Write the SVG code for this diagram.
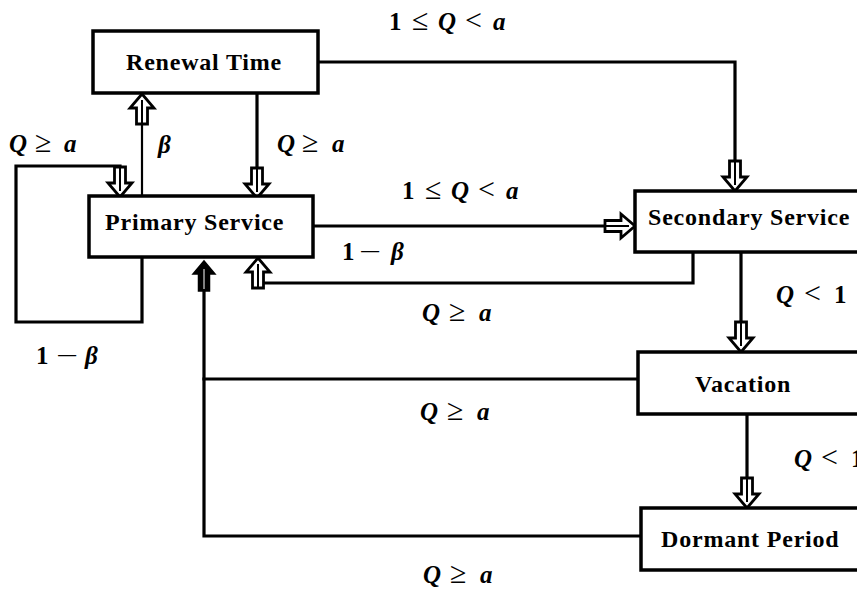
<svg xmlns="http://www.w3.org/2000/svg" xmlns:xlink="http://www.w3.org/1999/xlink" width="857" height="590" viewBox="0 0 857 590">
<style>
.box{fill:#fff;stroke:#000;stroke-width:3.5}
.lbl{font-family:"Liberation Serif","Times New Roman",serif;font-weight:bold;font-size:24px;letter-spacing:0.8px;fill:#000}
.m{font-family:"Liberation Serif","Times New Roman",serif;font-size:25px;fill:#000}
.r{font-size:30px}
.b{font-weight:bold}
.bi{font-weight:bold;font-style:italic}
.c{fill:none;stroke:#000;stroke-width:3.2;stroke-linecap:square;stroke-linejoin:miter}
.thin{stroke-width:2.2}
.ah{fill:#fff;stroke:#000;stroke-width:2.8;stroke-linejoin:miter}
</style>
<defs>
<g id="ah">
<path class="ah" d="M-5.5,-30 L5.5,-30 L5.5,-14 L12,-14 L0,0 L-12,-14 L-5.5,-14 Z"/>
<line x1="0" y1="-31" x2="0" y2="-6" stroke="#000" stroke-width="2"/>
</g>
<g id="fah">
<path d="M-5.5,-30 L5.5,-30 L5.5,-13 L11,-13 L0,0 L-11,-13 L-5.5,-13 Z" fill="#000" stroke="#000" stroke-width="1.5"/>
<line x1="0" y1="-28" x2="0" y2="-8" stroke="#fff" stroke-width="1"/>
</g>
</defs>
<rect width="857" height="590" fill="#fff"/>

<g id="connectors">
<path class="c" d="M318,62 H735 V165"/>
<path class="c" d="M257,93 V172"/>
<path class="c thin" d="M142,196 V122"/>
<path class="c" d="M142,257 V322 H16 V166 H120 V170"/>
<path class="c" d="M313,226 H610"/>
<path class="c" d="M693,252 V283 H258 V275"/>
<path class="c" d="M741,252 V325"/>
<path class="c" d="M747,414 V482"/>
<path class="c" d="M638,379 H204"/>
<path class="c" d="M641,536 H204 V288"/>
<use xlink:href="#ah" transform="translate(735,191)"/>
<use xlink:href="#ah" transform="translate(257,198)"/>
<use xlink:href="#ah" transform="translate(142,94) rotate(180)"/>
<use xlink:href="#ah" transform="translate(120,197)"/>
<use xlink:href="#ah" transform="translate(635,226) rotate(-90)"/>
<use xlink:href="#ah" transform="translate(258,258) rotate(180)"/>
<use xlink:href="#ah" transform="translate(741,352)"/>
<use xlink:href="#ah" transform="translate(747,508)"/>
<use xlink:href="#fah" transform="translate(204,261) rotate(180)"/>
</g>

<g id="renewal-time">
<rect class="box" x="93" y="31" width="225" height="62"/>
<text class="lbl" x="126" y="70">Renewal Time</text>
</g>
<g id="primary-service">
<rect class="box" x="89" y="196" width="224" height="61"/>
<text class="lbl" x="105" y="230">Primary Service</text>
</g>
<g id="secondary-service">
<rect class="box" x="635" y="191" width="240" height="61"/>
<text class="lbl" x="648" y="225">Secondary Service</text>
</g>
<g id="vacation">
<rect class="box" x="638" y="352" width="240" height="62"/>
<text class="lbl" x="695" y="392">Vacation</text>
</g>
<g id="dormant-period">
<rect class="box" x="641" y="508" width="240" height="62"/>
<text class="lbl" x="661" y="547">Dormant Period</text>
</g>

<g id="labels">
<text class="m" y="30"><tspan class="b" x="389">1</tspan><tspan class="r" x="412">≤</tspan><tspan class="bi" x="438">Q</tspan><tspan class="r" x="465">&lt;</tspan><tspan class="bi" x="493">a</tspan></text>
<text class="m" y="199"><tspan class="b" x="402">1</tspan><tspan class="r" x="425">≤</tspan><tspan class="bi" x="451">Q</tspan><tspan class="r" x="478">&lt;</tspan><tspan class="bi" x="506">a</tspan></text>
<text class="m" y="152"><tspan class="bi" x="9">Q</tspan><tspan class="r" x="35">≥</tspan><tspan class="bi" x="64">a</tspan></text>
<text class="m" y="152"><tspan class="bi" x="277">Q</tspan><tspan class="r" x="302">≥</tspan><tspan class="bi" x="332">a</tspan></text>
<text class="m bi" x="158" y="153">β</text>
<text class="m" y="260"><tspan class="b" x="342">1</tspan><tspan x="359" textLength="22" lengthAdjust="spacingAndGlyphs">−</tspan><tspan class="bi" x="391">β</tspan></text>
<text class="m" y="364"><tspan class="b" x="36">1</tspan><tspan x="56" textLength="22" lengthAdjust="spacingAndGlyphs">−</tspan><tspan class="bi" x="85">β</tspan></text>
<text class="m" y="321"><tspan class="bi" x="422">Q</tspan><tspan class="r" x="449">≥</tspan><tspan class="bi" x="479">a</tspan></text>
<text class="m" y="420"><tspan class="bi" x="420">Q</tspan><tspan class="r" x="447">≥</tspan><tspan class="bi" x="477">a</tspan></text>
<text class="m" y="583"><tspan class="bi" x="423">Q</tspan><tspan class="r" x="450">≥</tspan><tspan class="bi" x="480">a</tspan></text>
<text class="m" y="303"><tspan class="bi" x="776">Q</tspan><tspan class="r" x="804">&lt;</tspan><tspan class="b" x="834">1</tspan></text>
<text class="m" y="467"><tspan class="bi" x="794">Q</tspan><tspan class="r" x="821">&lt;</tspan><tspan class="b" x="851">1</tspan></text>
</g>
</svg>
